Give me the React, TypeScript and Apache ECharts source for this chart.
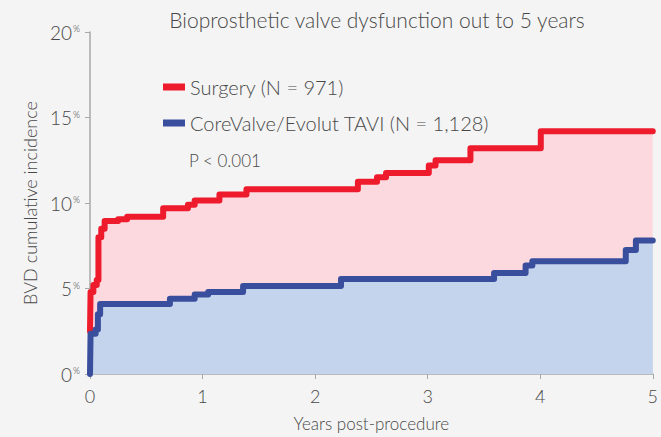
import React, { useEffect, useRef } from "react";
import * as echarts from "echarts";

const title = "Bioprosthetic valve dysfunction out to 5 years";
const xAxisName = "Years post-procedure";
const yAxisName = "BVD cumulative incidence";
const pValueText = "P < 0.001";
const surgeryName = "Surgery (N = 971)";
const taviName = "CoreValve/Evolut TAVI (N = 1,128)";

// [years, cumulative incidence %]
const surgeryPoints: [number, number][] = [
  [0, 2.5], [0.005, 4.8], [0.03, 5.2], [0.06, 5.5], [0.075, 8.0], [0.1, 8.5],
  [0.13, 8.95], [0.25, 9.05], [0.33, 9.2], [0.65, 9.7], [0.87, 9.9], [0.93, 10.15],
  [1.15, 10.5], [1.39, 10.8], [2.38, 11.25], [2.55, 11.5], [2.63, 11.75],
  [3.01, 12.2], [3.07, 12.5], [3.38, 13.2], [4.005, 14.2], [5, 14.2],
];
const taviPoints: [number, number][] = [
  [0, 0], [0.005, 2.35], [0.05, 2.6], [0.07, 3.5], [0.09, 4.1], [0.71, 4.4],
  [0.93, 4.65], [1.05, 4.8], [1.36, 5.15], [2.23, 5.55], [3.59, 5.9],
  [3.87, 6.35], [3.93, 6.6], [4.76, 7.25], [4.85, 7.8], [5, 7.8],
];
const yTicks = [0, 5, 10, 15, 20];

export default function App() {
  const ref = useRef<HTMLDivElement>(null);
  useEffect(() => {
    if (!ref.current) return;
    const chart = echarts.init(ref.current, undefined, { renderer: "svg" });
    const textColor = "#484848";
    const font = "Lato";
    const fw = 300;
    chart.setOption({
      animation: false,
      backgroundColor: "#f4f4f4",
      textStyle: { fontFamily: font },
      title: {
        text: title,
        left: 372,
        top: 4,
        textAlign: "center",
        textStyle: { fontFamily: font, fontSize: 21, fontWeight: fw, color: textColor },
      },
      legend: {
        orient: "vertical",
        left: 158,
        top: 72,
        itemGap: 16,
        itemWidth: 22,
        itemHeight: 7,
        icon: "rect",
        textStyle: { fontFamily: font, fontSize: 20, fontWeight: fw, color: textColor },
        data: [surgeryName, taviName],
      },
      graphic: [
        {
          type: "text",
          left: 189,
          top: 152,
          style: { text: pValueText, fontFamily: font, fontSize: 17, fontWeight: fw, fill: textColor },
        },
      ],
      grid: { left: 90, right: 7, top: 32, bottom: 59 },
      xAxis: {
        type: "value",
        min: 0,
        max: 5,
        interval: 1,
        name: xAxisName,
        nameLocation: "middle",
        nameGap: 41,
        nameTextStyle: { fontFamily: font, fontSize: 17, fontWeight: fw, color: textColor },
        axisLine: { lineStyle: { color: "#a8a8a8", width: 1.5 } },
        axisTick: { show: true, length: 5, lineStyle: { color: "#a8a8a8" } },
        axisLabel: { fontFamily: font, fontSize: 18, fontWeight: fw, color: textColor, margin: 13 },
        splitLine: { show: false },
      },
      yAxis: {
        type: "value",
        min: 0,
        max: 20,
        interval: 5,
        name: yAxisName,
        nameLocation: "middle",
        nameGap: 49,
        nameTextStyle: { fontFamily: font, fontSize: 18, fontWeight: fw, color: textColor },
        axisLine: { show: true, lineStyle: { color: "#a8a8a8", width: 1.5 } },
        axisTick: { show: true, length: 5, lineStyle: { color: "#a8a8a8" } },
        axisLabel: {
          margin: 10,
          formatter: (v: number) => (yTicks.includes(v) ? `{n|${v}}{p|%}` : ""),
          rich: {
            n: { fontFamily: font, fontSize: 19, fontWeight: fw, color: textColor, lineHeight: 20 },
            p: { fontFamily: font, fontSize: 9, fontWeight: fw, color: textColor, verticalAlign: "top", lineHeight: 11, padding: [2, 0, 0, 1] },
          },
        },
        splitLine: { show: false },
      },
      series: [
        {
          name: surgeryName,
          type: "line",
          step: "end",
          data: surgeryPoints,
          symbol: "none",
          color: "#ee1b2c",
          lineStyle: { color: "#ee1b2c", width: 6, join: "round", cap: "round" },
          areaStyle: { color: "#fcd9de", opacity: 1 },
          z: 2,
        },
        {
          name: taviName,
          type: "line",
          step: "end",
          data: taviPoints,
          symbol: "none",
          color: "#3a4e9e",
          lineStyle: { color: "#3a4e9e", width: 6, join: "round", cap: "round" },
          areaStyle: { color: "#c4d4ec", opacity: 1 },
          z: 3,
        },
      ],
    });
    return () => chart.dispose();
  }, []);
  return <div ref={ref} style={{ width: 661, height: 437, position: "absolute", left: 0, top: 0 }} />;
}
